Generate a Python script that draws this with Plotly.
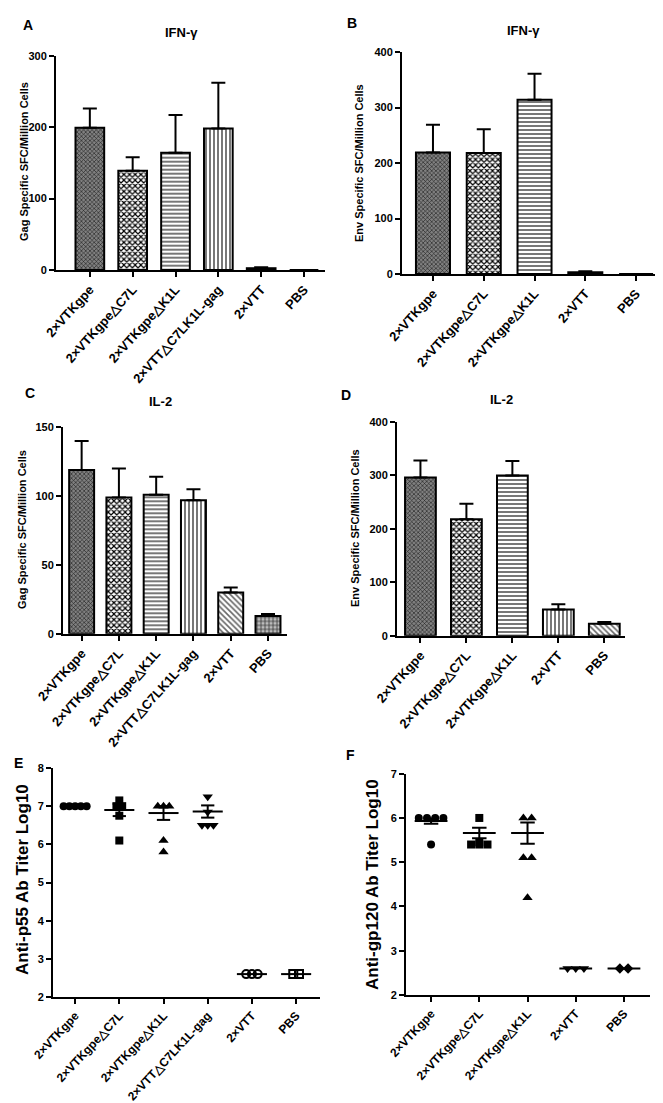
import plotly.graph_objects as go

W, H = 663, 1103
FONT = "Liberation Sans, Arial, sans-serif"

# ---------------- data ----------------
cats6 = ["2×VTKgpe", "2×VTKgpe△C7L", "2×VTKgpe△K1L", "2×VTT△C7LK1L-gag", "2×VTT", "PBS"]
cats5 = ["2×VTKgpe", "2×VTKgpe△C7L", "2×VTKgpe△K1L", "2×VTT", "PBS"]

A_vals = [199, 139, 164, 198, 2.5, 0]
A_sem = [27, 19, 53, 64, 1.5, 0]
B_vals = [219, 218, 314, 3, 0]
B_sem = [50, 43, 47, 2, 0]
C_vals = [119, 99, 101, 97, 30, 12.8]
C_sem = [21, 21, 13, 8, 3.6, 1.5]
D_vals = [296, 218, 300, 49, 22.5]
D_sem = [32, 29, 27, 10, 3]

E_points = [
    [7.0, 7.0, 7.0, 7.0, 7.0],
    [7.15, 7.0, 7.0, 6.75, 6.1],
    [7.0, 7.0, 7.0, 6.1, 5.8],
    [7.25, 6.85, 6.5, 6.5, 6.5],
    [2.6, 2.6, 2.6],
    [2.6, 2.6],
]
E_mean = [7.0, 6.9, 6.82, 6.86, 2.6, 2.6]
E_sem = [0, 0.16, 0.18, 0.16, 0, 0]

F_points = [
    [6.0, 6.0, 6.0, 6.0, 5.4],
    [6.0, 5.4, 5.4, 5.4, 5.45],
    [6.0, 6.0, 5.1, 5.1, 4.2],
    [2.6, 2.6, 2.6],
    [2.6, 2.6],
]
F_mean = [5.93, 5.66, 5.66, 2.6, 2.6]
F_sem = [0.06, 0.12, 0.24, 0, 0]

E_symbols = ["circle", "square", "triangle-up", "triangle-down", "circle-open", "square-open"]
F_symbols = ["circle", "square", "triangle-up", "triangle-down", "diamond"]

# bar fill patterns (style)
PAT = {
    "dense": dict(shape="x", fg="#1a1a1a", bg="#808080", size=3, sol=0.35),
    "check": dict(shape="x", fg="#000000", bg="#ffffff", size=4, sol=0.5),
    "hline": dict(shape="-", fg="#555555", bg="#ffffff", size=4, sol=0.4),
    "vline": dict(shape="|", fg="#555555", bg="#ffffff", size=4, sol=0.4),
    "diag": dict(shape="\\", fg="#666666", bg="#ffffff", size=4, sol=0.4),
    "grid": dict(shape="+", fg="#333333", bg="#bbbbbb", size=4, sol=0.35),
    "solid": dict(shape="", fg="#000000", bg="#000000", size=4, sol=0.3),
}

fig = go.Figure()


def dx(p0, p1):
    return [p0 / W, p1 / W]


def dy(pb, pt):
    return [1 - pb / H, 1 - pt / H]


def axis_style(**kw):
    d = dict(showgrid=False, zeroline=False, showline=True, linewidth=2,
             linecolor="black", ticks="outside", ticklen=5, tickwidth=2,
             tickcolor="black", automargin=False,
             tickfont=dict(family=FONT, size=11, color="black", weight="bold"))
    d.update(kw)
    return d


def xfont(sz):
    return dict(family=FONT, size=sz, color="black", weight="bold")


def add_bar_panel(idx, cats, vals, sem, pats, xd, yd, xr, yr, ytick):
    n = len(cats)
    for i in range(n):
        q = PAT[pats[i]]
        fig.add_trace(go.Bar(
            x=[i], y=[vals[i]], width=0.67,
            marker=dict(color=q["bg"],
                        line=dict(color="black", width=2),
                        pattern=dict(shape=q["shape"], fgcolor=q["fg"],
                                     bgcolor=q["bg"], size=q["size"],
                                     solidity=q["sol"], fillmode="replace")),
            error_y=dict(type="data", symmetric=False, array=[sem[i]],
                         arrayminus=[0], thickness=2, width=7, color="black"),
            xaxis=f"x{idx}", yaxis=f"y{idx}", cliponaxis=False))
    fig.layout[f"xaxis{idx}"] = axis_style(domain=xd, range=xr,
                                           tickvals=list(range(n)),
                                           ticktext=cats, tickangle=-48,
                                           tickfont=xfont(13),
                                           anchor=f"y{idx}")
    fig.layout[f"yaxis{idx}"] = axis_style(domain=yd, range=yr, tickvals=ytick,
                                           anchor=f"x{idx}")


def add_scatter_panel(idx, cats, pts, mean, sem, syms, xd, yd, xr, yr, ytick, spread):
    n = len(cats)
    lx, ly = [], []
    for i in range(n):
        m, s = mean[i], sem[i]
        lx += [i - 0.34, i + 0.34, None]
        ly += [m, m, None]
        if s > 0:
            lx += [i, i, None, i - 0.15, i + 0.15, None, i - 0.15, i + 0.15, None]
            ly += [m - s, m + s, None, m + s, m + s, None, m - s, m - s, None]
    fig.add_trace(go.Scatter(x=lx, y=ly, mode="lines",
                             line=dict(color="black", width=2),
                             xaxis=f"x{idx}", yaxis=f"y{idx}", cliponaxis=False))
    for i in range(n):
        vals = pts[i]
        groups = {}
        for v in vals:
            groups[round(v, 3)] = groups.get(round(v, 3), 0) + 1
        xs, ys = [], []
        for v, c in groups.items():
            for k in range(c):
                xs.append(i + (k - (c - 1) / 2) * spread)
                ys.append(v)
        sz = 9 if "triangle" in syms[i] else 8
        fig.add_trace(go.Scatter(
            x=xs, y=ys, mode="markers",
            marker=dict(symbol=syms[i], size=sz, color="black",
                        line=dict(color="black", width=2 if "open" in syms[i] else 0)),
            xaxis=f"x{idx}", yaxis=f"y{idx}", cliponaxis=False))
    fig.layout[f"xaxis{idx}"] = axis_style(domain=xd, range=xr,
                                           tickvals=list(range(n)),
                                           ticktext=cats, tickangle=-47,
                                           tickfont=xfont(12),
                                           anchor=f"y{idx}")
    fig.layout[f"yaxis{idx}"] = axis_style(domain=yd, range=yr, tickvals=ytick,
                                           anchor=f"x{idx}")


add_bar_panel(1, cats6, A_vals, A_sem,
              ["dense", "check", "hline", "vline", "solid", "solid"],
              dx(48, 317), dy(262, 47.7), [-0.79, 5.49], [0, 300], [0, 100, 200, 300])
add_bar_panel(2, cats5, B_vals, B_sem,
              ["dense", "check", "hline", "solid", "solid"],
              dx(394, 655), dy(266, 44), [-0.61, 4.53], [0, 400], [0, 100, 200, 300, 400])
add_bar_panel(3, cats6, C_vals, C_sem,
              ["dense", "check", "hline", "vline", "diag", "grid"],
              dx(55, 279), dy(625.7, 419.3), [-0.5, 5.51], [0, 150], [0, 50, 100, 150])
add_bar_panel(4, cats5, D_vals, D_sem,
              ["dense", "check", "hline", "vline", "diag"],
              dx(389, 617), dy(627.7, 414), [-0.51, 4.45], [0, 400], [0, 100, 200, 300, 400])
add_scatter_panel(5, cats6, E_points, E_mean, E_sem, E_symbols,
                  dx(45, 312), dy(989, 760), [-0.5, 5.54], [2, 8],
                  [2, 3, 4, 5, 6, 7, 8], 0.13)
add_scatter_panel(6, cats5, F_points, F_mean, F_sem, F_symbols,
                  dx(398, 642), dy(987, 765.7), [-0.52, 4.54], [2, 7],
                  [2, 3, 4, 5, 6, 7], 0.17)

ann = []


def txt(x, y, s, size, angle=0, bold=True):
    ann.append(dict(x=x / W, y=1 - y / H, xref="paper", yref="paper", text=s,
                    showarrow=False, textangle=angle, xanchor="center",
                    yanchor="middle",
                    font=dict(family=FONT, size=size, color="black",
                              weight="bold" if bold else "normal")))


txt(20, 17, "A", 14)
txt(344, 15, "B", 14)
txt(22, 385, "C", 14)
txt(338, 387, "D", 14)
txt(10, 755, "E", 14)
txt(342, 747, "F", 14)
txt(173, 25, "IFN-γ", 13)
txt(515, 22, "IFN-γ", 13)
txt(152, 393, "IL-2", 13)
txt(493, 392, "IL-2", 13)
txt(16, 154, "Gag Specific SFC/Million Cells", 11, -90)
txt(351, 155, "Env Specific SFC/Million Cells", 11, -90)
txt(14, 522, "Gag Specific SFC/Million Cells", 11, -90)
txt(347, 520, "Env Specific SFC/Million Cells", 11, -90)
txt(14, 872, "Anti-p55 Ab Titer Log10", 17, -90)
txt(364, 877, "Anti-gp120 Ab Titer Log10", 17, -90)

fig.update_layout(width=W, height=H, margin=dict(l=0, r=0, t=0, b=0),
                  paper_bgcolor="white", plot_bgcolor="white",
                  showlegend=False, annotations=ann, barmode="overlay",
                  font=dict(family=FONT, color="black"))

fig.write_html("out.html")
